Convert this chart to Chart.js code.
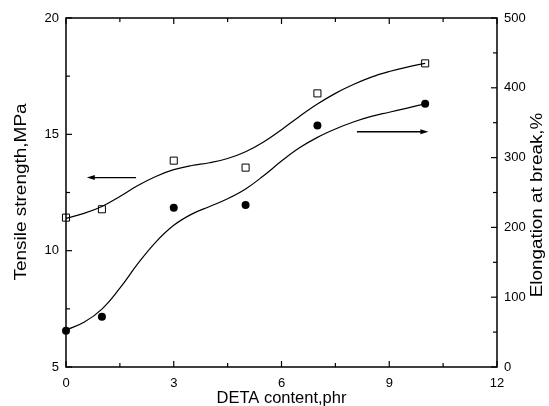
<!DOCTYPE html>
<html>
<head>
<meta charset="utf-8">
<script src="https://cdn.jsdelivr.net/npm/chart.js@4.4.1/dist/chart.umd.min.js"></script>
<style>
  html, body { margin: 0; padding: 0; background: #fff; }
  #wrap { width: 549px; height: 406px; }
</style>
</head>
<body>
<div id="wrap"><canvas id="chart"></canvas></div>
<script>
// measured points
const detaContent = [0, 1, 3, 5, 7, 10];
const tensileStrength = [11.42, 11.78, 13.87, 13.57, 16.76, 18.05];
const elongation = [52, 72, 228, 232, 346, 377];

// fitted curves
const fitX = [0, 0.5, 1, 1.5, 2, 2.5, 3, 3.5, 4, 4.5, 5, 5.5, 6, 6.5, 7, 7.5, 8, 8.5, 9, 9.5, 10];
const tensileFit = [11.39, 11.6, 11.9, 12.33, 12.8, 13.19, 13.48, 13.66, 13.78, 13.96, 14.25, 14.67, 15.2, 15.77, 16.3, 16.76, 17.14, 17.46, 17.7, 17.89, 18.05];
const elongationFit = [53, 64, 83, 113, 148, 179, 203, 219, 230, 241, 255, 274, 295, 314, 329, 341, 351, 359, 365, 371, 377];

// axis ticks
const xTicks = [0, 3, 6, 9, 12];
const xMinor = [1.5, 4.5, 7.5, 10.5];
const yTicks = [5, 10, 15, 20];
const yMinor = [7.5, 12.5, 17.5];
const y2Ticks = [0, 100, 200, 300, 400, 500];
const y2Minor = [50, 150, 250, 350, 450];

// arrows, in data units of x / left axis
const arrows = [
    { from: [1.95, 13.14], to: [0.58, 13.14] },
    { from: [8.1, 15.11], to: [10.09, 15.11] }
];

function pairs(xs, ys) {
    return xs.map(function(x, i) { return { x: x, y: ys[i] }; });
}

const tickFont = { family: 'Arial, "Liberation Sans", sans-serif', size: 13 };

function line(ctx, x1, y1, x2, y2) {
    ctx.beginPath();
    ctx.moveTo(x1, y1);
    ctx.lineTo(x2, y2);
    ctx.stroke();
}

const framePlugin = {
    id: 'frame',
    afterDraw: function(chart) {
        const ctx = chart.ctx;
        const a = chart.chartArea;
        const sx = chart.scales.x, sy = chart.scales.y, sy2 = chart.scales.y2;
        ctx.save();
        ctx.strokeStyle = '#000';
        ctx.fillStyle = '#000';
        ctx.lineWidth = 1.5;
        ctx.strokeRect(a.left, a.top, a.right - a.left, a.bottom - a.top);

        // inward ticks on all four sides
        ctx.lineWidth = 1.2;
        xTicks.concat(xMinor).forEach(function(v) {
            const len = xTicks.indexOf(v) >= 0 ? 6 : 4;
            const px = sx.getPixelForValue(v);
            line(ctx, px, a.bottom, px, a.bottom - len);
            line(ctx, px, a.top, px, a.top + len);
        });
        yTicks.concat(yMinor).forEach(function(v) {
            const len = yTicks.indexOf(v) >= 0 ? 6 : 4;
            const py = sy.getPixelForValue(v);
            line(ctx, a.left, py, a.left + len, py);
        });
        y2Ticks.concat(y2Minor).forEach(function(v) {
            const len = y2Ticks.indexOf(v) >= 0 ? 6 : 4;
            const py = sy2.getPixelForValue(v);
            line(ctx, a.right, py, a.right - len, py);
        });

        // arrows
        ctx.lineWidth = 1.3;
        arrows.forEach(function(ar) {
            const x1 = sx.getPixelForValue(ar.from[0]), y1 = sy.getPixelForValue(ar.from[1]);
            const x2 = sx.getPixelForValue(ar.to[0]), y2 = sy.getPixelForValue(ar.to[1]);
            const dir = x2 > x1 ? 1 : -1;
            line(ctx, x1, y1, x2 - dir * 5, y2);
            ctx.beginPath();
            ctx.moveTo(x2, y2);
            ctx.lineTo(x2 - dir * 8, y2 - 2.5);
            ctx.lineTo(x2 - dir * 8, y2 + 2.5);
            ctx.closePath();
            ctx.fill();
        });

        // axis titles
        ctx.textAlign = 'center';
        ctx.textBaseline = 'middle';
        ctx.font = '16.5px Arial, "Liberation Sans", sans-serif';
        ctx.fillText('DETA content,phr', (a.left + a.right) / 2, 398);

        function vtitle(text, x, y, size, stretch) {
            ctx.save();
            ctx.translate(x, y);
            ctx.rotate(-Math.PI / 2);
            ctx.scale(stretch, 1);
            ctx.font = size + 'px Arial, "Liberation Sans", sans-serif';
            ctx.fillText(text, 0, 0);
            ctx.restore();
        }
        vtitle('Tensile strength,MPa', 21, 192, 16.5, 1.15);
        vtitle('Elongation at break,%', 538, 205, 16, 1.18);
        ctx.restore();
    }
};

const ctx = document.getElementById('chart').getContext('2d');
const chart = new Chart(ctx, {
    type: 'scatter',
    data: {
        datasets: [
            {
                label: 'Tensile fit',
                data: pairs(fitX, tensileFit),
                yAxisID: 'y',
                showLine: true,
                pointRadius: 0,
                borderColor: '#000',
                borderWidth: 1.2,
                tension: 0.4
            },
            {
                label: 'Elongation fit',
                data: pairs(fitX, elongationFit),
                yAxisID: 'y2',
                showLine: true,
                pointRadius: 0,
                borderColor: '#000',
                borderWidth: 1.2,
                tension: 0.4
            },
            {
                label: 'Tensile strength',
                data: pairs(detaContent, tensileStrength),
                yAxisID: 'y',
                pointStyle: 'rect',
                pointRadius: 5,
                pointBackgroundColor: '#fff',
                pointBorderColor: '#000',
                pointBorderWidth: 1,
                clip: false
            },
            {
                label: 'Elongation at break',
                data: pairs(detaContent, elongation),
                yAxisID: 'y2',
                pointStyle: 'circle',
                pointRadius: 4,
                pointBackgroundColor: '#000',
                pointBorderColor: '#000',
                pointBorderWidth: 0,
                clip: false
            }
        ]
    },
    options: {
        responsive: true,
        maintainAspectRatio: false,
        animation: false,
        layout: { padding: { top: 18, left: 0, right: 0, bottom: 0 } },
        plugins: {
            legend: { display: false },
            tooltip: { enabled: false }
        },
        scales: {
            x: {
                type: 'linear',
                min: 0,
                max: 12,
                afterBuildTicks: function(s) { s.ticks = xTicks.map(function(v) { return { value: v }; }); },
                afterFit: function(s) { s.height = 39; },
                grid: { display: false, drawTicks: false },
                border: { display: false },
                ticks: { color: '#000', font: tickFont, padding: 9, maxRotation: 0 }
            },
            y: {
                position: 'left',
                min: 5,
                max: 20,
                afterBuildTicks: function(s) { s.ticks = yTicks.map(function(v) { return { value: v }; }); },
                afterFit: function(s) { s.width = 66; },
                grid: { display: false, drawTicks: false },
                border: { display: false },
                ticks: { color: '#000', font: tickFont, padding: 7 }
            },
            y2: {
                position: 'right',
                min: 0,
                max: 500,
                afterBuildTicks: function(s) { s.ticks = y2Ticks.map(function(v) { return { value: v }; }); },
                afterFit: function(s) { s.width = 52; },
                grid: { display: false, drawTicks: false },
                border: { display: false },
                ticks: { color: '#000', font: tickFont, padding: 7 }
            }
        }
    },
    plugins: [framePlugin]
});
</script>
</body>
</html>
